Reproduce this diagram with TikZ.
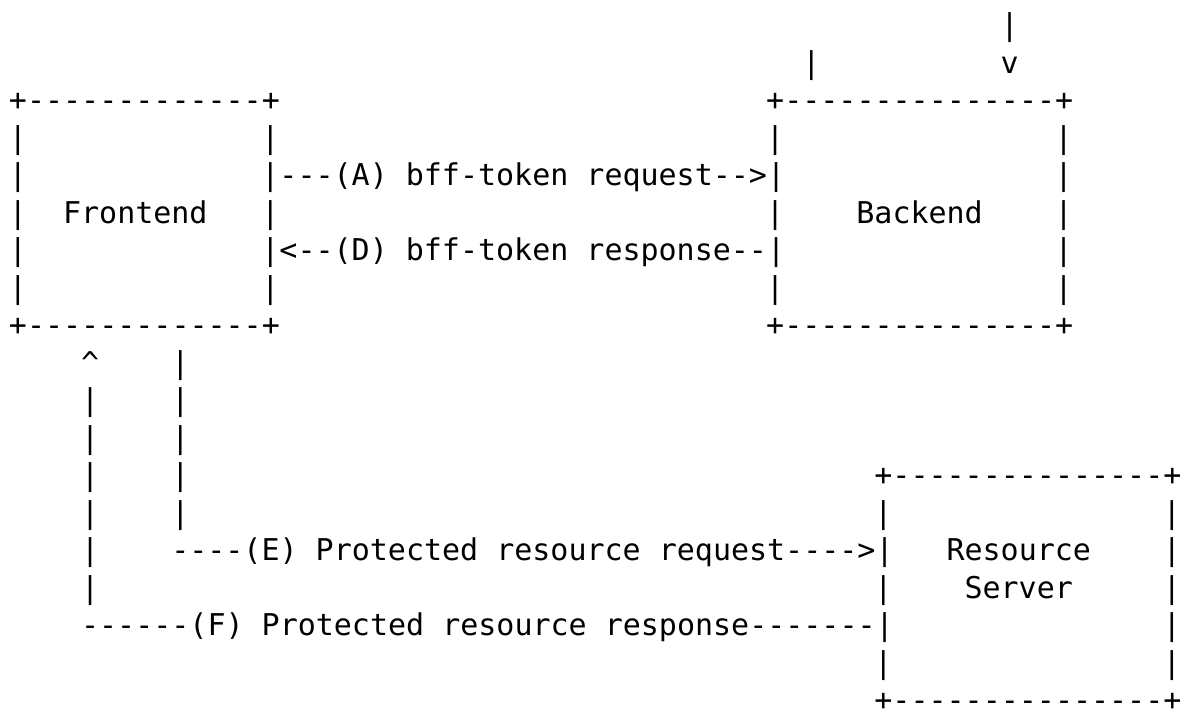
\documentclass[tikz,border=0pt]{standalone}
\usepackage{fontspec}
\setmonofont{DejaVu Sans Mono}
\usepackage{tikz}
\usetikzlibrary{positioning}

\begin{document}
\begin{tikzpicture}[
    x=0.3606cm, y=-0.75cm,
    ascii/.style={anchor=base west, inner sep=0pt, outer sep=0pt,
                  font=\ttfamily\fontsize{17.07}{20}\selectfont}
]
\useasboundingbox (-0.499,-0.947) rectangle (65.06,18.04);
\node[ascii] (inTop) at (55,0) {|};
\node[ascii] (inLeft) at (44,1) {|};
\node[ascii] (inHead) at (55,1) {v};
\node[ascii] (feTop) at (0,2) {+-------------+};
\node[ascii] (beTop) at (42,2) {+---------------+};
\foreach \r in {3,...,7} {
    \node[ascii] (feL\r) at (0,\r) {|};
    \node[ascii] (beR\r) at (58,\r) {|};
}
\foreach \r in {3,5,7} {
    \node[ascii] (feR\r) at (14,\r) {|};
    \node[ascii] (beL\r) at (42,\r) {|};
}
\node[ascii] (reqA) at (14,4) {|---(A) bff-token request-->|};
\node[ascii] (fe) at (3,5) {Frontend};
\node[ascii] (be) at (47,5) {Backend};
\node[ascii] (resD) at (14,6) {|<--(D) bff-token response--|};
\node[ascii] (feBot) at (0,8) {+-------------+};
\node[ascii] (beBot) at (42,8) {+---------------+};
\node[ascii] (upHead) at (4,9) {\textasciicircum};
\node[ascii] (downTop) at (9,9) {|};
\foreach \r in {10,...,15} {
    \node[ascii] (upL\r) at (4,\r) {|};
}
\foreach \r in {10,...,13} {
    \node[ascii] (downL\r) at (9,\r) {|};
}
\node[ascii] (rsTop) at (48,12) {+---------------+};
\foreach \r in {13,...,17} {
    \node[ascii] (rsR\r) at (64,\r) {|};
}
\foreach \r in {13,15,17} {
    \node[ascii] (rsL\r) at (48,\r) {|};
}
\node[ascii] (reqE) at (9,14) {----(E) Protected resource request---->|};
\node[ascii] (rs1) at (52,14) {Resource};
\node[ascii] (rs2) at (53,15) {Server};
\node[ascii] (resF) at (4,16) {------(F) Protected resource response-------|};
\node[ascii] (rsBot) at (48,18) {+---------------+};
\end{tikzpicture}
\end{document}
